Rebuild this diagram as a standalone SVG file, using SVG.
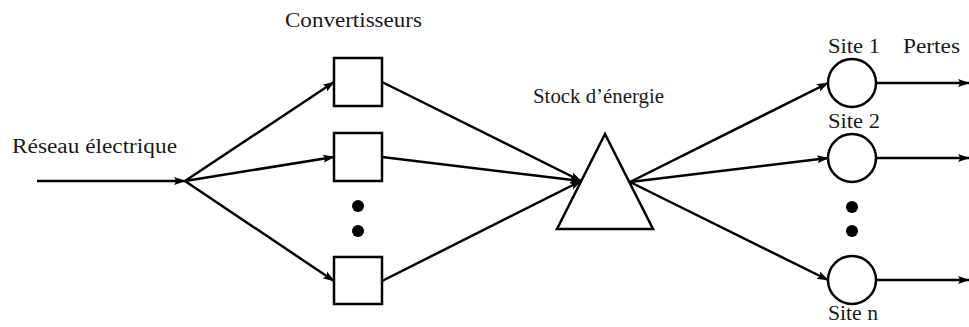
<svg xmlns="http://www.w3.org/2000/svg" width="969" height="327" viewBox="0 0 969 327">
<defs>
<marker id="ah" markerWidth="12" markerHeight="10" viewBox="0 0 12 10" refX="11" refY="5" orient="auto" markerUnits="userSpaceOnUse">
<path d="M0,1 L12,5 L0,9 L2.5,5 Z" fill="#000"/>
</marker>
</defs>
<style>
.t{font-family:"Liberation Serif","DejaVu Serif",serif;font-size:20px;fill:#1a1a1a}
.n{fill:#fff;stroke:#000;stroke-width:2.5}
.e{fill:none;stroke:#000;stroke-width:2.5;marker-end:url(#ah)}
.d{fill:#000}
</style>
<rect width="969" height="327" fill="#fff"/>
<text class="t" x="12" y="153" textLength="165" lengthAdjust="spacingAndGlyphs">Réseau électrique</text>
<text class="t" x="285" y="27" textLength="137" lengthAdjust="spacingAndGlyphs">Convertisseurs</text>
<text class="t" x="533" y="103" textLength="131" lengthAdjust="spacingAndGlyphs">Stock d’énergie</text>
<g id="conv1"><rect class="n" x="334" y="58" width="48" height="48"/></g>
<g id="conv2"><rect class="n" x="334" y="133" width="48" height="48"/></g>
<g id="conv3"><rect class="n" x="334" y="257" width="48" height="47"/></g>
<g id="convdots"><circle class="d" cx="358" cy="206" r="6"/><circle class="d" cx="358" cy="231" r="6"/></g>
<g id="stock"><polygon class="n" points="605,134 557,229 653,229"/></g>
<g id="site1"><circle class="n" cx="852" cy="83" r="24"/><text class="t" x="828" y="53" textLength="52" lengthAdjust="spacingAndGlyphs">Site 1</text></g>
<g id="pertes"><text class="t" x="903" y="53" textLength="57" lengthAdjust="spacingAndGlyphs">Pertes</text></g>
<g id="site2"><circle class="n" cx="852" cy="158" r="24"/><text class="t" x="828" y="128" textLength="52" lengthAdjust="spacingAndGlyphs">Site 2</text></g>
<g id="sitedots"><circle class="d" cx="852" cy="207" r="6"/><circle class="d" cx="852" cy="231" r="6"/></g>
<g id="siten"><circle class="n" cx="852" cy="280" r="24"/><text class="t" x="828" y="320" textLength="50" lengthAdjust="spacingAndGlyphs">Site n</text></g>
<g id="connectors">
<line class="e" x1="37" y1="181" x2="185" y2="181"/>
<line class="e" x1="185" y1="181" x2="334" y2="82"/>
<line class="e" x1="185" y1="181" x2="334" y2="157"/>
<line class="e" x1="185" y1="181" x2="334" y2="281"/>
<line class="e" x1="382" y1="82" x2="581" y2="181"/>
<line class="e" x1="382" y1="157" x2="581" y2="181"/>
<line class="e" x1="382" y1="281" x2="581" y2="181"/>
<line class="e" x1="630" y1="182" x2="828" y2="83"/>
<line class="e" x1="630" y1="182" x2="828" y2="158"/>
<line class="e" x1="630" y1="182" x2="828" y2="280"/>
<line class="e" x1="876" y1="83" x2="969" y2="83"/>
<line class="e" x1="876" y1="158" x2="969" y2="158"/>
<line class="e" x1="876" y1="280" x2="969" y2="280"/>
</g>
</svg>
